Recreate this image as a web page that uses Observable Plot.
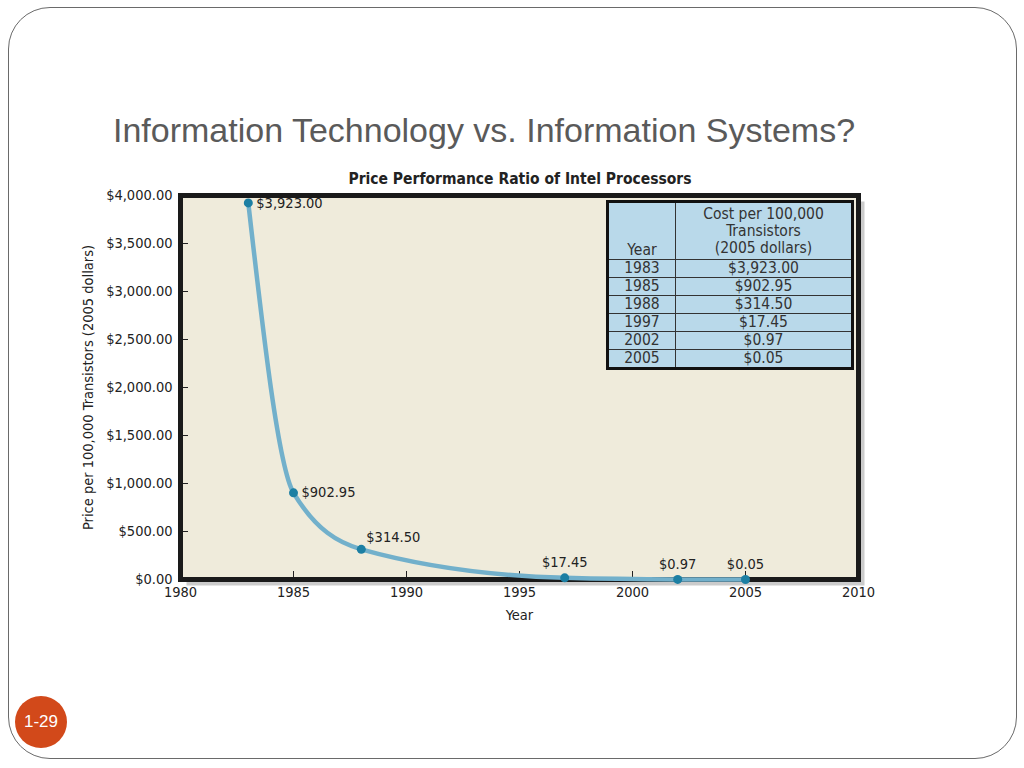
<!DOCTYPE html>
<html><head><meta charset="utf-8">
<script src="https://cdn.jsdelivr.net/npm/d3@7"></script>
<script src="https://cdn.jsdelivr.net/npm/@observablehq/plot@0.6"></script>
<style>
body{margin:0;background:#fff;}
#page{position:relative;width:1024px;height:768px;overflow:hidden;font-family:"Liberation Sans",Arial,sans-serif;}
#border{position:absolute;left:8px;top:7px;width:1009px;height:752px;border:1px solid #6a6a6a;border-radius:42px;box-sizing:border-box;}
#title{position:absolute;left:113px;top:113px;font-size:34px;line-height:34px;color:#5a5a5a;white-space:nowrap;}
#ctitle{position:absolute;left:0;width:1040px;top:170px;text-align:center;font-family:"Liberation Sans Narrow","DejaVu Sans Condensed",sans-serif;font-weight:bold;font-size:15.5px;color:#222;}
#chart{position:absolute;left:0;top:150px;}
#tbl{position:absolute;left:606px;top:200px;width:248px;height:168px;border-collapse:collapse;background:#B9D9EA;border:3px solid #111;box-sizing:border-box;font-family:"Liberation Sans Narrow","DejaVu Sans Condensed",sans-serif;font-size:15.5px;color:#333;}
#tbl td{border:1px solid #333;text-align:center;padding:0;line-height:17px;}
#tbl td.y{width:66px;}
#badge{position:absolute;left:15px;top:696px;width:52px;height:52px;border-radius:50%;background:#D2491A;color:#fff;font-size:17px;line-height:52px;text-align:center;}
</style></head>
<body><div id="page">
<div id="border"></div>
<div id="title">Information Technology vs. Information Systems?</div>
<div id="chart"></div>
<div id="ctitle">Price Performance Ratio of Intel Processors</div>
<table id="tbl"></table>
<div id="badge">1-29</div>
</div>
<script>
const years = [1983, 1985, 1988, 1997, 2002, 2005];
const costs = [3923.00, 902.95, 314.50, 17.45, 0.97, 0.05];
const xTicks = [1980, 1985, 1990, 1995, 2000, 2005, 2010];
const yTicks = [0, 500, 1000, 1500, 2000, 2500, 3000, 3500, 4000];
const tableHeader = ["Year", "Cost per 100,000 Transistors (2005 dollars)"];

const data = years.map((y, i) => ({year: y, cost: costs[i], i}));
const fmt = d3.format("$,.2f");
const condensed = '"Liberation Sans Narrow","DejaVu Sans Condensed",sans-serif';

const chart = Plot.plot({
  width: 1024, height: 490,
  marginLeft: 180, marginRight: 166, marginTop: 45, marginBottom: 61,
  style: {fontFamily: condensed, fontSize: "14.5px", color: "#222", background: "transparent", overflow: "visible"},
  x: {domain: [1980, 2010]},
  y: {domain: [0, 4000]},
  marks: [
    Plot.frame({fill: "#cbcbcb", dx: 6, dy: 6}),
    Plot.frame({fill: "#EFEBDB"}),
    Plot.axisX({ticks: xTicks, tickFormat: d => String(d), tickSize: -8, tickPadding: 15, label: "Year", labelAnchor: "center", labelArrow: "none", labelOffset: 40}),
    Plot.axisY({ticks: yTicks, tickFormat: fmt, tickSize: -8, tickPadding: 16, label: "Price per 100,000 Transistors (2005 dollars)", labelAnchor: "center", labelArrow: "none", labelOffset: 98}),
    Plot.frame({stroke: "#1a1a1a", strokeWidth: 5}),
    Plot.line(data, {x: "year", y: "cost", curve: "monotone-x", stroke: "#72B0CB", strokeWidth: 4.5}),
    Plot.dot(data, {x: "year", y: "cost", r: 4.5, fill: "#1C7FA3"}),
    Plot.text(data.filter(d => d.i < 2), {x: "year", y: "cost", text: d => fmt(d.cost), textAnchor: "start", dx: 8, fill: "#222"}),
    Plot.text(data.filter(d => d.i === 2), {x: "year", y: "cost", text: d => fmt(d.cost), textAnchor: "start", dx: 5, dy: -12, fill: "#222"}),
    Plot.text(data.filter(d => d.i > 2), {x: "year", y: "cost", text: d => fmt(d.cost), textAnchor: "middle", dy: -15, fill: "#222"})
  ]
});
document.getElementById("chart").appendChild(chart);

const tbl = document.getElementById("tbl");
let html = `<tr style="height:58px"><td class="y" style="vertical-align:bottom">${tableHeader[0]}</td><td>Cost per 100,000<br>Transistors<br>(2005 dollars)</td></tr>`;
years.forEach((y, i) => { html += `<tr><td class="y">${y}</td><td>${fmt(costs[i])}</td></tr>`; });
tbl.innerHTML = html;
</script>
</body></html>
